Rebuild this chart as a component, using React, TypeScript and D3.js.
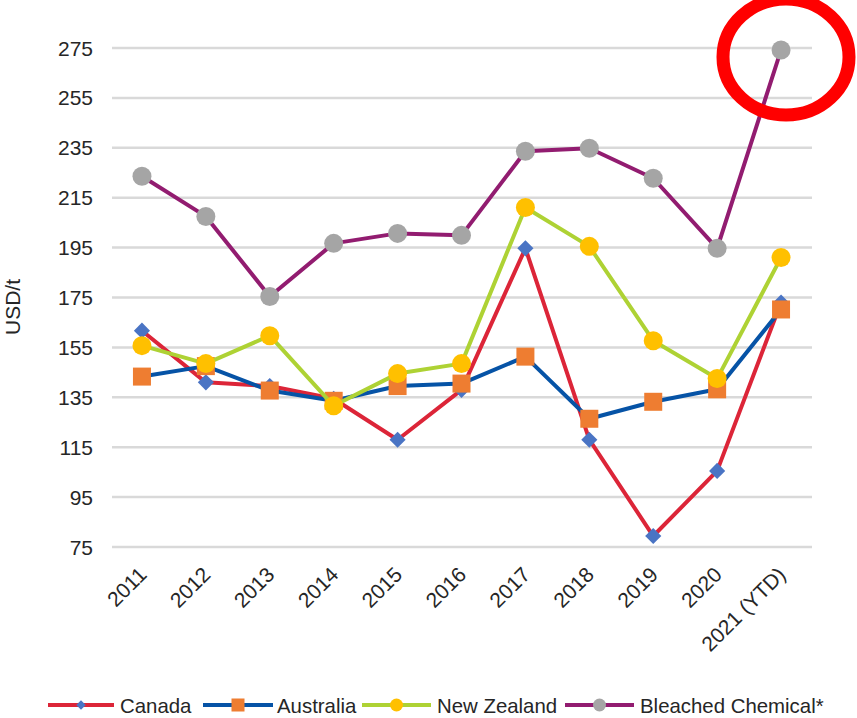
import * as d3 from "d3";
import { useMemo } from "react";

const years = ["2011", "2012", "2013", "2014", "2015", "2016", "2017", "2018", "2019", "2020", "2021 (YTD)"];
const canada = [161.7, 141, 139.5, 134.4, 118, 138, 194.7, 118, 79.4, 105.5, 173];
const australia = [143.3, 147.5, 137.7, 133.6, 139.5, 140.5, 151.3, 126.4, 133.2, 138.2, 170.2];
const newZealand = [155.7, 148.5, 159.7, 131.6, 144.5, 148.5, 211.1, 195.5, 157.7, 142.5, 191];
const bleached = [223.6, 207.5, 175.4, 196.7, 200.7, 199.9, 233.6, 234.8, 222.8, 194.7, 274.2];
const yTicks = [75, 95, 115, 135, 155, 175, 195, 215, 235, 255, 275];

const series = [
  { name: "Canada", values: canada, line: "#DC2538", marker: "#4A74C4", shape: "diamond" },
  { name: "Australia", values: australia, line: "#0653A6", marker: "#EE7D31", shape: "square" },
  { name: "New Zealand", values: newZealand, line: "#AED234", marker: "#FFC000", shape: "circle" },
  { name: "Bleached Chemical*", values: bleached, line: "#921C70", marker: "#A5A5A5", shape: "circle" },
];

function Marker({ shape, x, y, size, fill }) {
  if (shape === "diamond") {
    const s = size * 0.95;
    return <path d={`M${x},${y - s} L${x + s},${y} L${x},${y + s} L${x - s},${y} Z`} fill={fill} />;
  }
  if (shape === "square") {
    return <rect x={x - size} y={y - size} width={size * 2} height={size * 2} fill={fill} />;
  }
  return <circle cx={x} cy={y} r={size} fill={fill} />;
}

export default function App() {
  const width = 857;
  const height = 718;

  const xScale = useMemo(
    () => d3.scalePoint().domain(years).range([110, 813]).padding(0.5),
    []
  );
  const yScale = useMemo(() => d3.scaleLinear().domain([75, 275]).range([547, 48]), []);

  const line = d3
    .line<number>()
    .x((d, i) => xScale(years[i]))
    .y((d) => yScale(d));

  // legend: line start, line length, text start
  const legendItems = [
    { lineX: 48, w: 66, textX: 120 },
    { lineX: 203, w: 70, textX: 277 },
    { lineX: 362, w: 69, textX: 437 },
    { lineX: 565, w: 69, textX: 640 },
  ];

  return (
    <svg
      width={width}
      height={height}
      viewBox={`0 0 ${width} ${height}`}
      style={{ position: "absolute", left: 0, top: 0, background: "#fff" }}
      fontFamily="'Liberation Sans', Arial, sans-serif"
    >
      {yTicks.map((t) => (
        <g key={t}>
          <line x1={112} x2={812} y1={yScale(t)} y2={yScale(t)} stroke="#D9D9D9" strokeWidth={2.5} />
          <text x={93} y={yScale(t) + 7.5} textAnchor="end" fontSize={21} fill="#262626">
            {t}
          </text>
        </g>
      ))}

      <text
        transform={`translate(20, 307) rotate(-90)`}
        textAnchor="middle"
        fontSize={21}
        fill="#262626"
      >
        USD/t
      </text>

      {years.map((yr) => (
        <text
          key={yr}
          transform={`translate(${xScale(yr) + 6}, 576) rotate(-45)`}
          textAnchor="end"
          fontSize={21}
          fill="#262626"
        >
          {yr}
        </text>
      ))}

      {series.map((s) => (
        <g key={s.name}>
          <path d={line(s.values) || ""} fill="none" stroke={s.line} strokeWidth={4} strokeLinejoin="round" />
          {s.values.map((v, i) => (
            <Marker
              key={i}
              shape={s.shape}
              x={xScale(years[i])}
              y={yScale(v)}
              size={s.shape === "circle" ? 9.5 : s.shape === "square" ? 9 : 8.5}
              fill={s.marker}
            />
          ))}
        </g>
      ))}

      {series.map((s, i) => {
        const it = legendItems[i];
        return (
          <g key={s.name}>
            <line x1={it.lineX} x2={it.lineX + it.w} y1={705} y2={705} stroke={s.line} strokeWidth={4} />
            <Marker
              shape={s.shape}
              x={it.lineX + it.w / 2}
              y={705}
              size={s.shape === "circle" ? 6.5 : s.shape === "square" ? 6.5 : 5}
              fill={s.marker}
            />
            <text x={it.textX} y={712.5} fontSize={20.4} fill="#262626">
              {s.name}
            </text>
          </g>
        );
      })}

      <ellipse cx={786} cy={57} rx={63} ry={58} fill="none" stroke="#FF0000" strokeWidth={13} />
    </svg>
  );
}
